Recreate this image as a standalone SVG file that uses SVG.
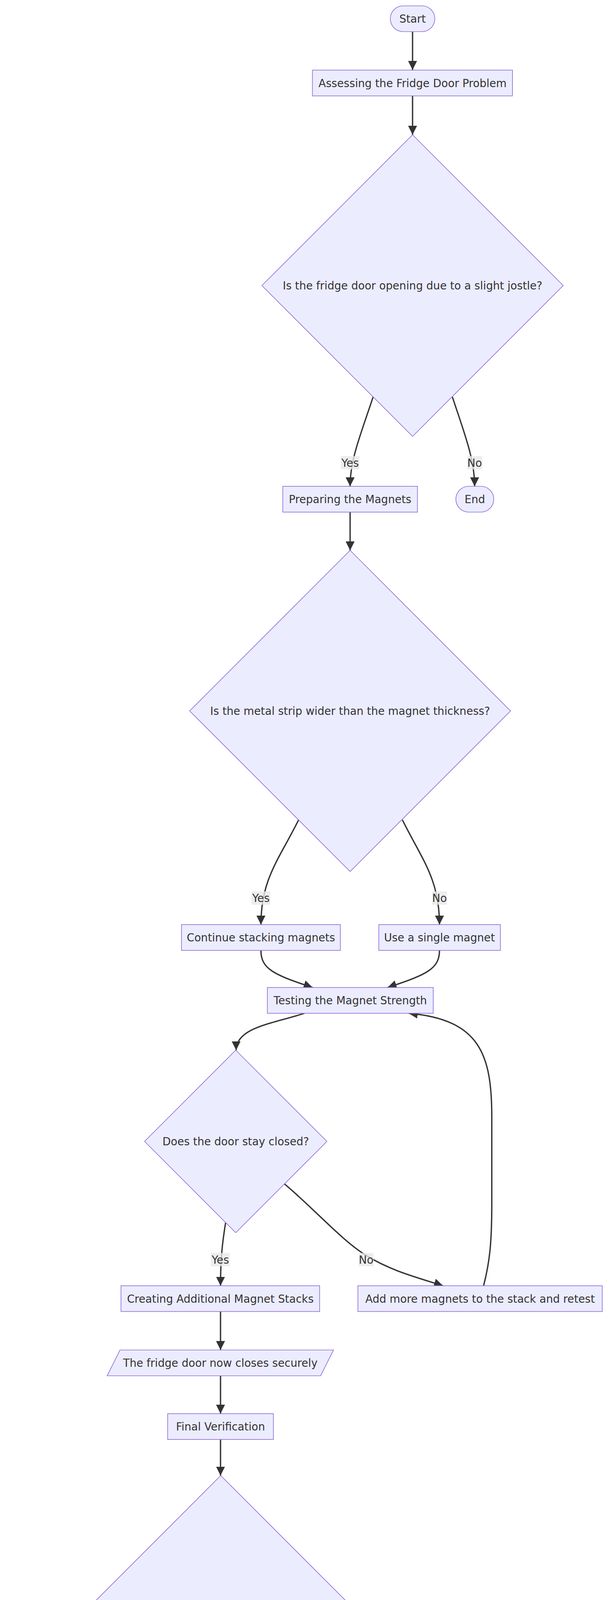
<svg xmlns="http://www.w3.org/2000/svg" width="1568" height="5204" viewBox="0 0 1568 5204">
<style>
.nd rect,.nd polygon{fill:#ECECFF;stroke:#9370DB;stroke-width:1.7}
text{font-family:"DejaVu Sans",Verdana,"Liberation Sans",sans-serif;font-size:27.7px;fill:#333333;text-anchor:middle}
.edge{fill:none;stroke:#333333;stroke-width:3.4;marker-end:url(#arrow)}
.lbg{fill:#E8E8E8;fill-opacity:0.8}
</style>
<defs>
<marker id="arrow" viewBox="0 0 10 10" refX="10" refY="5" markerUnits="userSpaceOnUse" markerWidth="23" markerHeight="23" orient="auto">
<path d="M0,0 L10,5 L0,10 z" fill="#333333"/>
</marker>
</defs>
<rect x="0" y="0" width="1568" height="5204" fill="#ffffff"/>
<g id="connectors">
<path class="edge" d="M1057,81 L1057,179"/>
<path class="edge" d="M1057,245.5 L1057,345"/>
<path class="edge" d="M956,1016 C925,1110 897,1175 897,1245"/>
<path class="edge" d="M1159,1016 C1190,1110 1216,1175 1216,1245"/>
<path class="edge" d="M897,1311 L897,1409"/>
<path class="edge" d="M765,2099 C715,2200 668.5,2250 668.5,2367"/>
<path class="edge" d="M1031,2099 C1081,2200 1126,2250 1126,2367"/>
<path class="edge" d="M668.5,2433 C668.5,2480 700,2495 801,2528"/>
<path class="edge" d="M1126,2433 C1126,2480 1094,2495 993,2528"/>
<path class="edge" d="M780,2594 C700,2620 605,2630 605,2688.5"/>
<path class="edge" d="M578,3130 C570,3180 565,3220 565,3291.5"/>
<path class="edge" d="M729,3031 C800,3090 880,3180 940,3215 C1000,3252 1060,3268 1135,3291.5"/>
<path class="edge" d="M1239,3291.5 C1255,3230 1260,3180 1260,3080 L1260,2860 C1260,2700 1230,2610 1047,2594"/>
<path class="edge" d="M565,3357.5 L565,3456"/>
<path class="edge" d="M565,3522 L565,3619"/>
<path class="edge" d="M565,3685 L565,3777.5"/>
<path class="edge" d="M381,4592 C320,4700 233,4790 233,4911.5"/>
<path class="edge" d="M752,4590 C813,4700 898,4790 898,4911.5"/>
<path class="edge" d="M233,4977.5 C233,5030 300,5045 517.5,5092"/>
<path class="edge" d="M898,4977.5 C898,5030 831,5045 614,5092"/>
</g>
<g id="edge-labels">
<g id="lbl-yes1"><rect class="lbg" x="873" y="1167.5" width="48" height="34"/><text x="897" y="1194.5">Yes</text></g>
<g id="lbl-no1"><rect class="lbg" x="1197" y="1167.5" width="38" height="34"/><text x="1216" y="1194.5">No</text></g>
<g id="lbl-yes2"><rect class="lbg" x="644.5" y="2282" width="48" height="34"/><text x="668.5" y="2309">Yes</text></g>
<g id="lbl-no2"><rect class="lbg" x="1107" y="2282" width="38" height="34"/><text x="1126" y="2309">No</text></g>
<g id="lbl-yes3"><rect class="lbg" x="540.5" y="3207.5" width="48" height="34"/><text x="564.5" y="3234.5">Yes</text></g>
<g id="lbl-no3"><rect class="lbg" x="919" y="3207.5" width="38" height="34"/><text x="938" y="3234.5">No</text></g>
<g id="lbl-yes4"><rect class="lbg" x="209" y="4829" width="48" height="34"/><text x="233" y="4856">Yes</text></g>
<g id="lbl-no4"><rect class="lbg" x="879" y="4829" width="38" height="34"/><text x="898" y="4856">No</text></g>
</g>
<g id="node-start" class="nd"><rect x="1000" y="15" width="114" height="66" rx="33" ry="33"/><text x="1057" y="58">Start</text></g>
<g id="node-assess" class="nd"><rect x="800.5" y="179.5" width="512.5" height="66"/><text x="1057" y="222.5">Assessing the Fridge Door Problem</text></g>
<g id="node-q1" class="nd"><polygon points="1057,345 1443,731 1057,1117 671,731"/><text x="1057" y="741">Is the fridge door opening due to a slight jostle?</text></g>
<g id="node-prep" class="nd"><rect x="724.5" y="1245" width="345" height="66"/><text x="897" y="1288">Preparing the Magnets</text></g>
<g id="node-end1" class="nd"><rect x="1168" y="1245" width="97" height="66" rx="33" ry="33"/><text x="1216.5" y="1288">End</text></g>
<g id="node-q2" class="nd"><polygon points="897,1409 1308,1820 897,2231 486,1820"/><text x="897" y="1830">Is the metal strip wider than the magnet thickness?</text></g>
<g id="node-cont" class="nd"><rect x="465" y="2367" width="407" height="66"/><text x="668.5" y="2410">Continue stacking magnets</text></g>
<g id="node-single" class="nd"><rect x="970.5" y="2367" width="311.5" height="66"/><text x="1126" y="2410">Use a single magnet</text></g>
<g id="node-test" class="nd"><rect x="685" y="2528" width="425" height="66"/><text x="897.5" y="2571">Testing the Magnet Strength</text></g>
<g id="node-q3" class="nd"><polygon points="604,2688.5 837.5,2922 604,3155.5 370.5,2922"/><text x="604" y="2932">Does the door stay closed?</text></g>
<g id="node-create" class="nd"><rect x="310" y="3291.5" width="509" height="66"/><text x="564.5" y="3334.5">Creating Additional Magnet Stacks</text></g>
<g id="node-add" class="nd"><rect x="917" y="3291.5" width="626" height="66"/><text x="1230" y="3334.5">Add more magnets to the stack and retest</text></g>
<g id="node-secure" class="nd"><polygon points="307.5,3456 854.5,3456 821.5,3522 274.5,3522"/><text x="564.5" y="3499">The fridge door now closes securely</text></g>
<g id="node-final" class="nd"><rect x="429.5" y="3619" width="271" height="66"/><text x="565" y="3662">Final Verification</text></g>
<g id="node-q4" class="nd"><polygon points="565.5,3777.5 1065,4277 565.5,4776.5 66,4277"/><text x="565.5" y="4287">Has the magnet solution been effective for an extended period?</text></g>
<g id="node-confirm" class="nd"><rect x="15" y="4911.5" width="436" height="66"/><text x="233" y="4954.5">Confirm the issue is resolved</text></g>
<g id="node-reassess" class="nd"><rect x="548" y="4911.5" width="699.5" height="66"/><text x="897.75" y="4954.5">Reassess and apply additional fixes if necessary</text></g>
<g id="node-end2" class="nd"><rect x="517.5" y="5076" width="96.5" height="66" rx="33" ry="33"/><text x="565.75" y="5119">End</text></g>
</svg>
